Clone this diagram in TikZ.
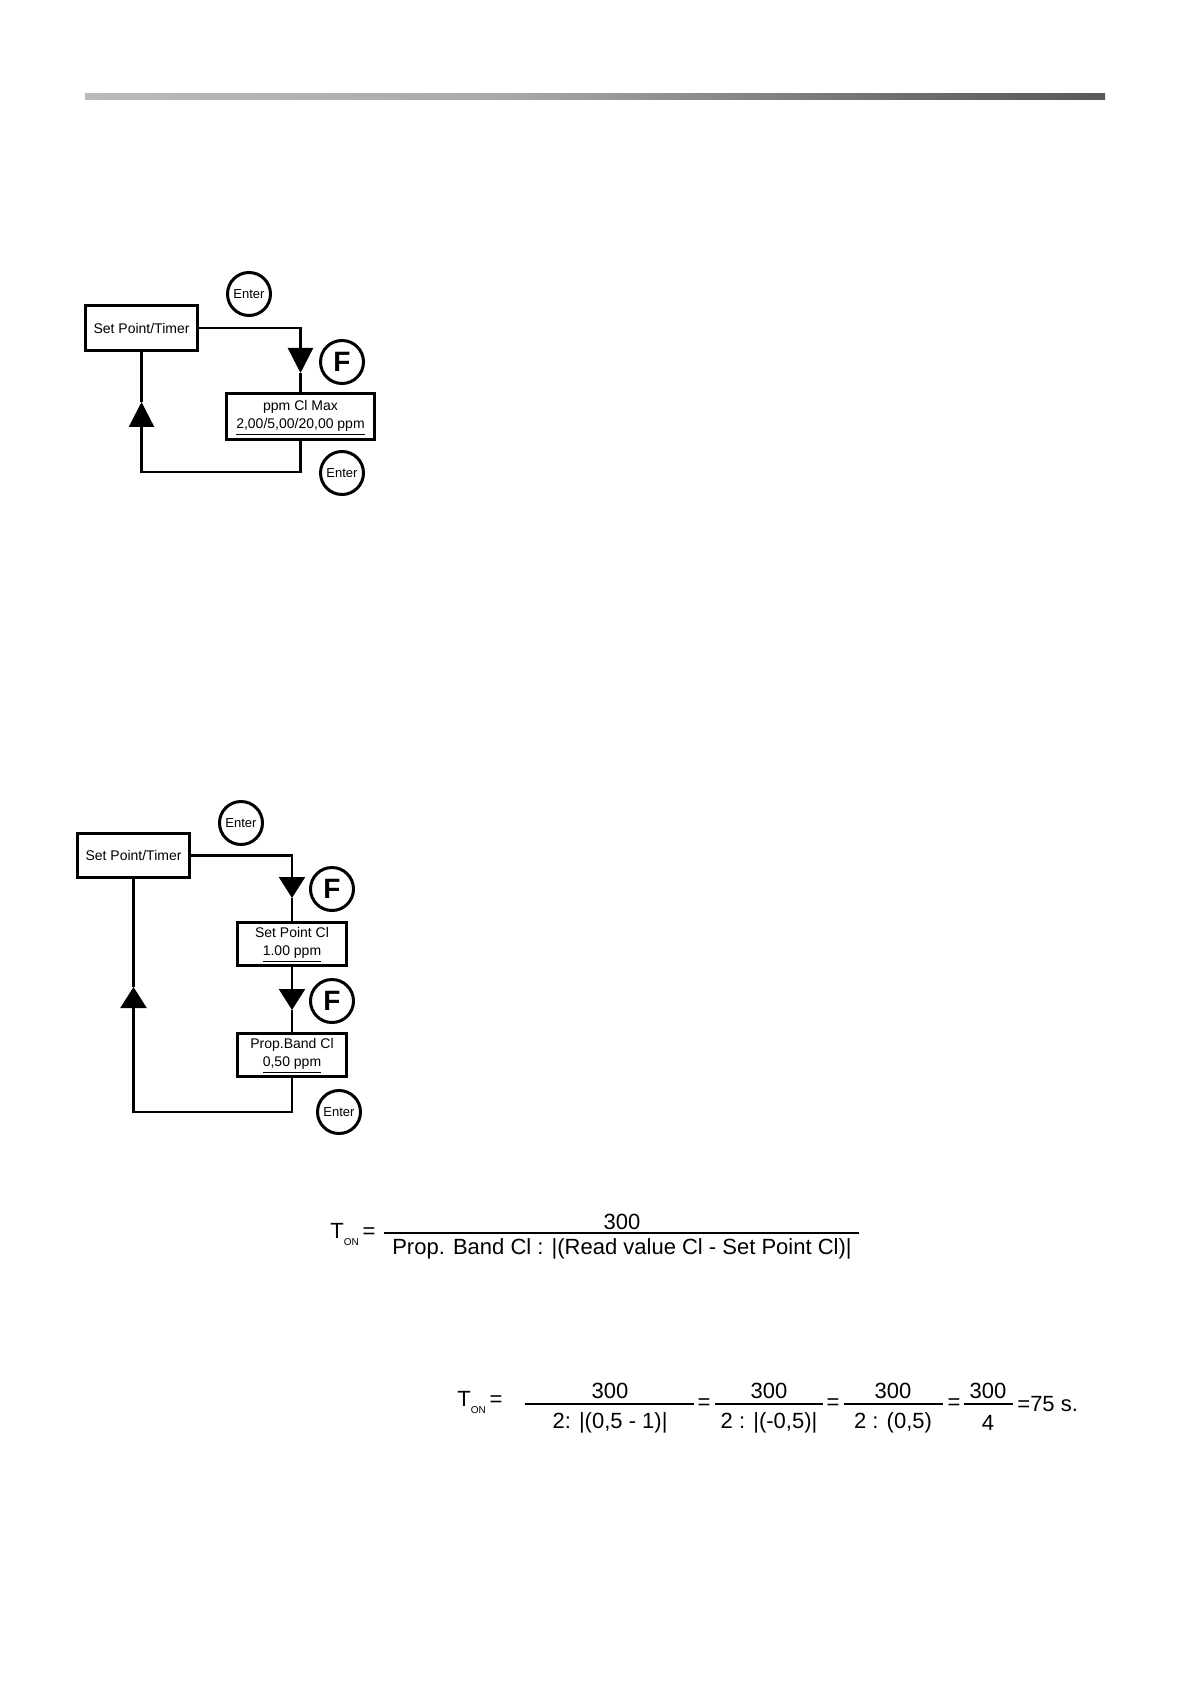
\documentclass[tikz,border=0pt]{standalone}
\usepackage{fontspec}
\setmainfont{Liberation Sans}
\usetikzlibrary{arrows.meta}
\definecolor{barA}{RGB}{186,186,186}
\definecolor{barB}{RGB}{170,170,170}
\definecolor{barC}{RGB}{140,140,140}
\definecolor{barD}{RGB}{110,110,110}
\definecolor{barE}{RGB}{88,88,88}
\pgfdeclarehorizontalshading{barshade}{100bp}{color(0bp)=(barA); color(25bp)=(barA); color(45bp)=(barB); color(55bp)=(barC); color(65bp)=(barD); color(75bp)=(barE); color(100bp)=(barE)}
\newcommand{\twolines}[2]{\raisebox{-2pt}{\begin{tabular}{@{}c@{}}#1\\#2\end{tabular}}}
\begin{document}
\begin{tikzpicture}[x=0.5pt,y=-0.5pt,
  box/.style={draw,line width=1.2pt,inner sep=0pt,font=\fontsize{7}{9}\selectfont},
  btn/.style={draw,circle,line width=1.5pt,minimum size=21.5pt,inner sep=0pt},
  entertxt/.style={font=\fontsize{6.5}{7}\selectfont},
  ftxt/.style={font=\fontsize{14}{15}\selectfont\bfseries},
  conn/.style={line width=1.2pt},
  tribig/.style={-{Triangle[width=12.5pt,length=12.5pt]}},
  trismall/.style={-{Triangle[width=13pt,length=10.5pt]}},
  eq/.style={font=\fontsize{11}{13}\selectfont,inner sep=0pt},
  fracline/.style={line width=0.7pt}
]
\useasboundingbox (0,0) rectangle (1191,1684);

% top bar
\shade[shading=barshade] (85,94) rectangle (1105,100);

% ---------- diagram 1 ----------
\node[box,minimum width=56pt,minimum height=22.5pt] (sp1) at (141.5,328) {Set Point/Timer};
\node[box,minimum width=74pt,minimum height=23pt] (cl1) at (300.5,416.5) {\twolines{ppm Cl Max}{\underline{2,00/5,00/20,00 ppm}}};
\node[btn,entertxt] (en1) at (249,294) {Enter};
\node[btn,ftxt] (f1) at (342,362) {F};
\node[btn,entertxt] (en2) at (342,473) {Enter};

\coordinate (a1) at (300.5,373);
\coordinate (c1) at (141.5,472);
\coordinate (u1) at (141.5,402);
\draw[conn,tribig] (sp1.east) -| (a1);
\draw[conn] (a1) -- (cl1.north);
\draw[conn,tribig] (cl1.south) |- (c1) -- (u1);
\draw[conn] (u1) -- (sp1.south);

% ---------- diagram 2 ----------
\node[box,minimum width=56pt,minimum height=22pt] (sp2) at (133.5,855.5) {Set Point/Timer};
\node[box,minimum width=54.5pt,minimum height=21.5pt] (spc) at (292,944) {\twolines{Set Point Cl}{\underline{1.00 ppm}}};
\node[box,minimum width=54.5pt,minimum height=21.5pt] (pb) at (292,1055) {\twolines{Prop.Band Cl}{\underline{0,50 ppm}}};
\node[btn,entertxt] (en3) at (241,823) {Enter};
\node[btn,ftxt] (f2) at (332,889) {F};
\node[btn,ftxt] (f3) at (332,1001) {F};
\node[btn,entertxt] (en4) at (339,1112) {Enter};

\coordinate (a2) at (292,898);
\coordinate (a3) at (292,1010);
\coordinate (c2) at (133.5,1112);
\coordinate (u2) at (133.5,987);
\draw[conn,trismall] (sp2.east) -| (a2);
\draw[conn] (a2) -- (spc.north);
\draw[conn,trismall] (spc.south) -- (a3);
\draw[conn] (a3) -- (pb.north);
\draw[conn,trismall] (pb.south) |- (c2) -- (u2);
\draw[conn] (u2) -- (sp2.south);

% ---------- formula 1 ----------
\node[eq,anchor=west] (ton1) at (330,1234) {T\raisebox{-0.6ex}{\fontsize{5}{6}\selectfont ON}\,=};
\node[eq] (num1) at (622,1222) {300};
\draw[fracline] (384,1233) -- (859,1233);
\node[eq] (den1) at (622,1249) {Prop. Band Cl : |(Read value Cl - Set Point Cl)|};

% ---------- formula 2 ----------
\node[eq,anchor=west] (ton2) at (457,1402) {T\raisebox{-0.6ex}{\fontsize{5}{6}\selectfont ON}\,=};
\node[eq] (n21) at (610,1391) {300};
\draw[fracline] (525,1404) -- (694,1404);
\node[eq] (d21) at (610,1423) {2: |(0,5 - 1)|};
\node[eq] (e21) at (704,1404) {=};
\node[eq] (n22) at (769,1391) {300};
\draw[fracline] (715,1404) -- (823,1404);
\node[eq] (d22) at (769,1423) {2 : |(-0,5)|};
\node[eq] (e22) at (833,1404) {=};
\node[eq] (n23) at (893,1391) {300};
\draw[fracline] (844,1404) -- (943,1404);
\node[eq] (d23) at (893,1423) {2 : (0,5)};
\node[eq] (e23) at (954,1404) {=};
\node[eq] (n24) at (988,1391) {300};
\draw[fracline] (964,1404) -- (1013,1404);
\node[eq] (d24) at (988,1423) {4};
\node[eq,anchor=west] (res) at (1017,1404) {=75 s.};
\end{tikzpicture}
\end{document}
